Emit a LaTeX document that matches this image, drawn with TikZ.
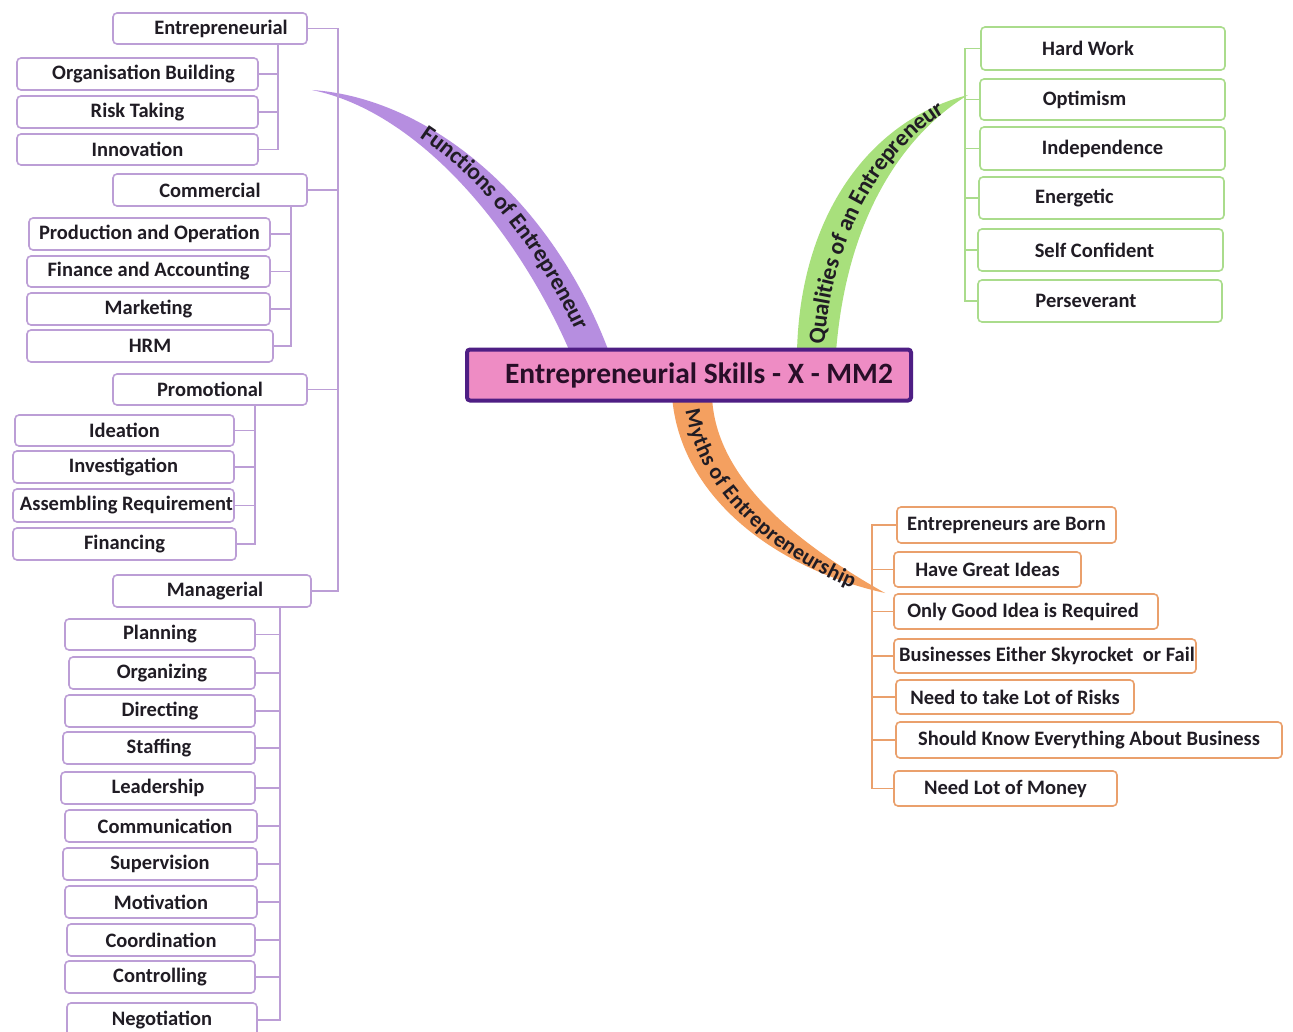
\documentclass[tikz,border=0pt]{standalone}
\usepackage{fontspec}
\setmainfont{Carlito}
\usetikzlibrary{decorations.text}
\definecolor{txt}{RGB}{32,28,36}
\definecolor{pbord}{RGB}{188,158,214}
\definecolor{gbord}{RGB}{170,220,140}
\definecolor{obord}{RGB}{234,160,108}
\definecolor{pfill}{RGB}{182,142,224}
\definecolor{gfill}{RGB}{168,224,124}
\definecolor{ofill}{RGB}{244,160,96}
\definecolor{cfill}{RGB}{238,140,196}
\definecolor{cbord}{RGB}{78,30,132}
\definecolor{ctxt}{RGB}{40,14,40}
\newcommand{\lblfont}[1]{\fontsize{#1}{24}\selectfont\bfseries\color{txt}}
\newcommand{\bx}[7][pbox]{\node[#1, minimum width={(#5-#3)*1pt}, minimum height={(#6-#4)*1pt}] (#2) at ({(#3+#5)/2},{(#4+#6)/2}) {#7};}
\newcommand{\shl}[2]{\hspace*{-#1pt}\hspace*{-#1pt}#2}
\newcommand{\shr}[2]{#2\hspace*{-#1pt}\hspace*{-#1pt}}
\begin{document}
\begin{tikzpicture}[x=1pt,y=-1pt,
  box/.style={draw, rounded corners=4pt, line width=1.6pt, fill=white, inner sep=0pt, outer sep=0pt,
    font=\fontsize{20.5}{22}\selectfont\bfseries, text=txt},
  pbox/.style={box, draw=pbord},
  gbox/.style={box, draw=gbord},
  obox/.style={box, draw=obord},
  pline/.style={draw=pbord, line width=1.8pt},
  gline/.style={draw=gbord, line width=1.8pt},
  oline/.style={draw=obord, line width=1.8pt},
  lbl/.style={decorate, decoration={text along path, text align={left indent=#1}, raise=-8pt}}]
\useasboundingbox (0,0) rectangle (1293,1032);
\fill[white] (0,0) rectangle (1293,1032);

% ---------- branches ----------
\fill[pfill] (312,90) .. controls (430,98) and (552,200) .. (609,352) -- (570,352) .. controls (518,232) and (420,112) .. (312,90) -- cycle;
\path[lbl=114pt, decoration={text={|\lblfont{23.5}|Functions of Entrepreneur}, raise=-7pt}]
  (318,91) .. controls (430,104) and (537,215) .. (592,352);

\fill[gfill] (797,352) .. controls (800,215) and (870,120) .. (968,95) .. controls (940,112) and (850,175) .. (836,352) -- cycle;
\path[lbl=8pt, decoration={text={|\lblfont{23.5}|Qualities of an Entrepreneur}}]
  (816,352) .. controls (822,220) and (895,116) .. (968,95);

\fill[ofill] (672,396) .. controls (680,500) and (780,570) .. (885,593) .. controls (800,545) and (715,480) .. (712,396) -- cycle;
\path[lbl=13pt, decoration={text={|\lblfont{22}|Myths of Entrepreneurship}}]
  (692,396) .. controls (698,490) and (790,560) .. (885,593);

% ---------- central node ----------
\node[draw=cbord, line width=4pt, fill=cfill, rounded corners=3pt, inner sep=0pt, outer sep=0pt,
  minimum width=444pt, minimum height=51pt, font=\fontsize{29.5}{30}\selectfont\bfseries, text=ctxt]
  (root) at (689,375) {\shr{10}{Entrepreneurial Skills - X - MM2}};

% ---------- Functions (left) ----------
\bx{ent}{113}{13}{307}{44}{\shr{11}{Entrepreneurial}}
\bx{org}{17}{58}{258}{90}{\shr{6}{Organisation Building}}
\bx{risk}{17}{96}{258}{128}{Risk Taking}
\bx{inn}{17}{134}{258}{165}{Innovation}

\bx{com}{113}{174}{307}{206}{Commercial}
\bx{prod}{29}{218}{270}{250}{Production and Operation}
\bx{fin}{27}{256}{270}{287}{Finance and Accounting}
\bx{mkt}{27}{293}{270}{325}{Marketing}
\bx{hrm}{27}{330}{273}{362}{HRM}

\bx{pro}{113}{374}{307}{405}{Promotional}
\bx{idea}{15}{415}{234}{446}{Ideation}
\bx{inv}{13}{451}{234}{483}{Investigation}
\bx{asm}{13}{489}{234}{522}{\shr{3}{Assembling Requirement}}
\bx{fina}{13}{528}{236}{560}{Financing}

\bx{man}{113}{575}{311}{607}{\shr{3}{Managerial}}
\bx{plan}{65}{619}{255}{650}{Planning}
\bx{orgz}{69}{657}{255}{689}{Organizing}
\bx{dir}{65}{695}{255}{727}{Directing}
\bx{staf}{63}{732}{255}{764}{Staffing}
\bx{lead}{61}{772}{255}{804}{Leadership}
\bx{comm}{65}{810}{257}{842}{\shr{4}{Communication}}
\bx{sup}{63}{848}{257}{880}{Supervision}
\bx{mot}{65}{886}{257}{918}{Motivation}
\bx{coor}{67}{924}{255}{956}{Coordination}
\bx{ctrl}{65}{961}{255}{993}{Controlling}
\bx{neg}{67}{1003}{257}{1037}{Negotiation}

\coordinate (fv) at (338,0);
\draw[pline] (ent.east) -- (ent.east -| fv) -- (man.east -| fv) -- (man.east);
\draw[pline] (com.east) -- (com.east -| fv);
\draw[pline] (pro.east) -- (pro.east -| fv);

\coordinate (e1) at (278,0);
\draw[pline] (ent.south -| e1) -- (inn.east -| e1) -- (inn.east);
\foreach \n in {org,risk} \draw[pline] (\n.east) -- (\n.east -| e1);

\coordinate (c1) at (291,0);
\draw[pline] (com.south -| c1) -- (hrm.east -| c1) -- (hrm.east);
\foreach \n in {prod,fin,mkt} \draw[pline] (\n.east) -- (\n.east -| c1);

\coordinate (p1) at (255,0);
\draw[pline] (pro.south -| p1) -- (fina.east -| p1) -- (fina.east);
\foreach \n in {idea,inv,asm} \draw[pline] (\n.east) -- (\n.east -| p1);

\coordinate (m1) at (280,0);
\draw[pline] (man.south -| m1) -- (neg.east -| m1) -- (neg.east);
\foreach \n in {plan,orgz,dir,staf,lead,comm,sup,mot,coor,ctrl} \draw[pline] (\n.east) -- (\n.east -| m1);

% ---------- Qualities (right top) ----------
\bx[gbox]{hard}{981}{27}{1225}{70}{\shl{15}{Hard Work}}
\bx[gbox]{opt}{980}{79}{1225}{120}{\shl{18}{Optimism}}
\bx[gbox]{ind}{980}{127}{1225}{170}{Independence}
\bx[gbox]{ener}{979}{177}{1224}{219}{\shl{27}{Energetic}}
\bx[gbox]{self}{978}{229}{1223}{271}{\shl{6}{Self Confident}}
\bx[gbox]{pers}{978}{280}{1222}{322}{\shl{14}{Perseverant}}

\coordinate (g1) at (965,0);
\draw[gline] (hard.west) -- (hard.west -| g1) -- (pers.west -| g1) -- (pers.west);
\foreach \n in {opt,ind,ener,self} \draw[gline] (\n.west) -- (\n.west -| g1);

% ---------- Myths (right bottom) ----------
\bx[obox]{born}{897}{507}{1116}{543}{Entrepreneurs are Born}
\bx[obox]{great}{894}{552}{1081}{587}{Have Great Ideas}
\bx[obox]{good}{894}{594}{1158}{629}{\shl{3}{Only Good Idea is Required}}
\bx[obox]{sky}{894}{639}{1196}{673}{\shr{2}{Businesses Either Skyrocket\ \ or Fail}}
\bx[obox]{risks}{896}{680}{1134}{714}{Need to take Lot of Risks}
\bx[obox]{know}{896}{722}{1282}{758}{Should Know Everything About Business}
\bx[obox]{money}{894}{771}{1117}{806}{Need Lot of Money}

\coordinate (o1) at (872,0);
\draw[oline] (born.west) -- (born.west -| o1) -- (money.west -| o1) -- (money.west);
\foreach \n in {great,good,sky,risks,know} \draw[oline] (\n.west) -- (\n.west -| o1);
\end{tikzpicture}
\end{document}
